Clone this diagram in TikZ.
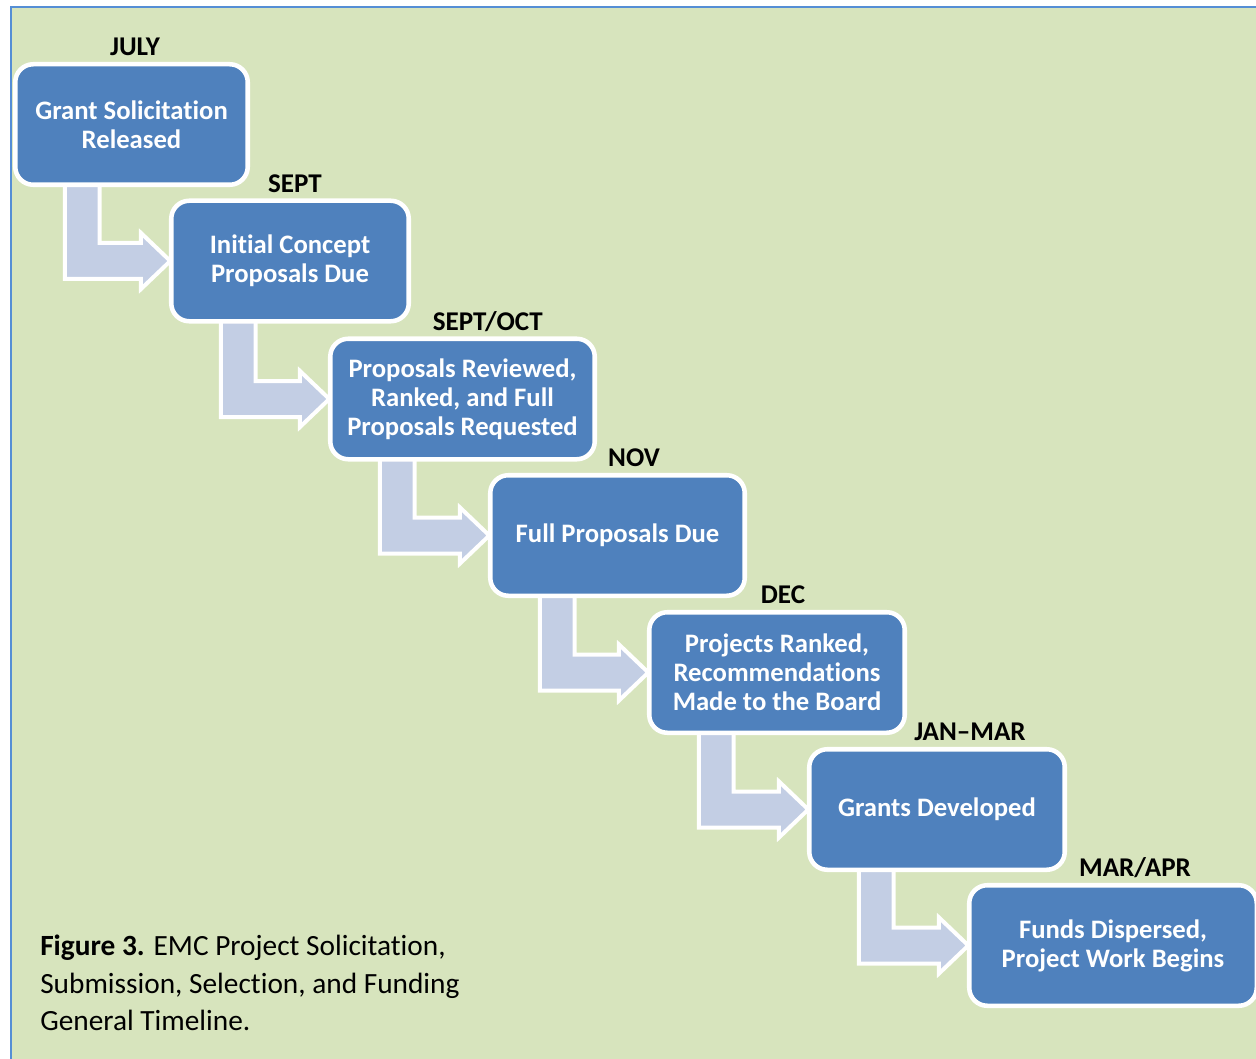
\documentclass[tikz,border=0pt]{standalone}
\usepackage{fontspec}
\setmainfont{Carlito}[Ligatures={TeX,NoCommon}]
\usetikzlibrary{positioning,calc,backgrounds}
\tikzstyle{timeline} = [x = .75pt, y = -.75pt]
\definecolor{boxColor}{RGB}{79,129,189}
\definecolor{arrowColor}{RGB}{195,206,228}
\definecolor{backColor}{RGB}{215,228,189}
\definecolor{frameColor}{RGB}{85,142,213}
\tikzstyle{boxStyle} = [draw=white, fill=boxColor, line width=3.4pt, rounded corners=13.5pt, minimum height=90.4pt, inner sep=0pt, align=center, text=white, font=\fontsize{20}{21.75}\selectfont\bfseries]
\tikzstyle{monthText} = [font=\fontsize{20.3}{22}\selectfont\bfseries, inner sep=0pt, text depth=0pt]
\tikzstyle{arrowStyle} = [draw=white, fill=arrowColor, line width=3pt, line join=miter]
\tikzstyle{captionText} = [font=\fontsize{22}{28}\selectfont, inner sep=0pt, align=left]
\tikzstyle{frameLine} = [color=frameColor, line width=1.5pt]
\newcommand{\timelineBox}[5]{\node [boxStyle, minimum width={#4*.75pt}] (#1) at (#2,#3) {#5};}
\newcommand{\monthLabel}[3]{\node [monthText, above=4.3pt of #1.north, xshift=#2] (#1Month) {#3};}
\newcommand{\bentArrow}[2]{
  \filldraw [arrowStyle] let \p1 = (#1.south west), \p2 = (#2.west) in
    (\x1 + 39pt, \y1 + 6pt) -- (\x1 + 39pt, \y2 - 13.5pt) -- (\x2 - 21pt, \y2 - 13.5pt)
    -- (\x2 - 21pt, \y2 - 21pt) -- (\x2 + 1pt, \y2) -- (\x2 - 21pt, \y2 + 21pt)
    -- (\x2 - 21pt, \y2 + 13.5pt) -- (\x1 + 65pt, \y2 + 13.5pt) -- (\x1 + 65pt, \y1 + 6pt) -- cycle;
}
\begin{document}
\begin{tikzpicture}[timeline]
  \useasboundingbox (0,0) rectangle (1256,1059);
  % steps
  \timelineBox{solicitation}{131.5}{124.5}{232.5}{Grant Solicitation\\Released}
  \timelineBox{concept}{290}{261}{237.5}{Initial Concept\\Proposals Due}
  \timelineBox{reviewed}{462.5}{399}{264.5}{Proposals Reviewed,\\Ranked, and Full\\Proposals Requested}
  \timelineBox{fullProposals}{617.5}{535.5}{254.5}{Full Proposals Due}
  \timelineBox{ranked}{777}{672.5}{255.5}{Projects Ranked,\\Recommendations\\Made to the Board}
  \timelineBox{grants}{937}{809.5}{255.5}{Grants Developed}
  \timelineBox{funds}{1113}{945.5}{287.5}{Funds Dispersed,\\Project Work Begins}
  % months
  \monthLabel{solicitation}{2.6pt}{JULY}
  \monthLabel{concept}{3.75pt}{SEPT}
  \monthLabel{reviewed}{19pt}{SEPT/OCT}
  \monthLabel{fullProposals}{12.4pt}{NOV}
  \monthLabel{ranked}{4.5pt}{DEC}
  \monthLabel{grants}{24.75pt}{JAN--MAR}
  \monthLabel{funds}{16.5pt}{MAR/APR}
  \node [captionText, anchor=north west] (caption) at (40,935) {\textbf{Figure 3.} EMC Project Solicitation,\\Submission, Selection, and Funding\\General Timeline.};
  \begin{pgfonlayer}{background}
    \fill [backColor] (11,7) rectangle (1256,1059);
    \draw [frameLine] (11,1059) -- (11,7) -- (1256,7);
    \bentArrow{solicitation}{concept}
    \bentArrow{concept}{reviewed}
    \bentArrow{reviewed}{fullProposals}
    \bentArrow{fullProposals}{ranked}
    \bentArrow{ranked}{grants}
    \bentArrow{grants}{funds}
  \end{pgfonlayer}
\end{tikzpicture}
\end{document}
